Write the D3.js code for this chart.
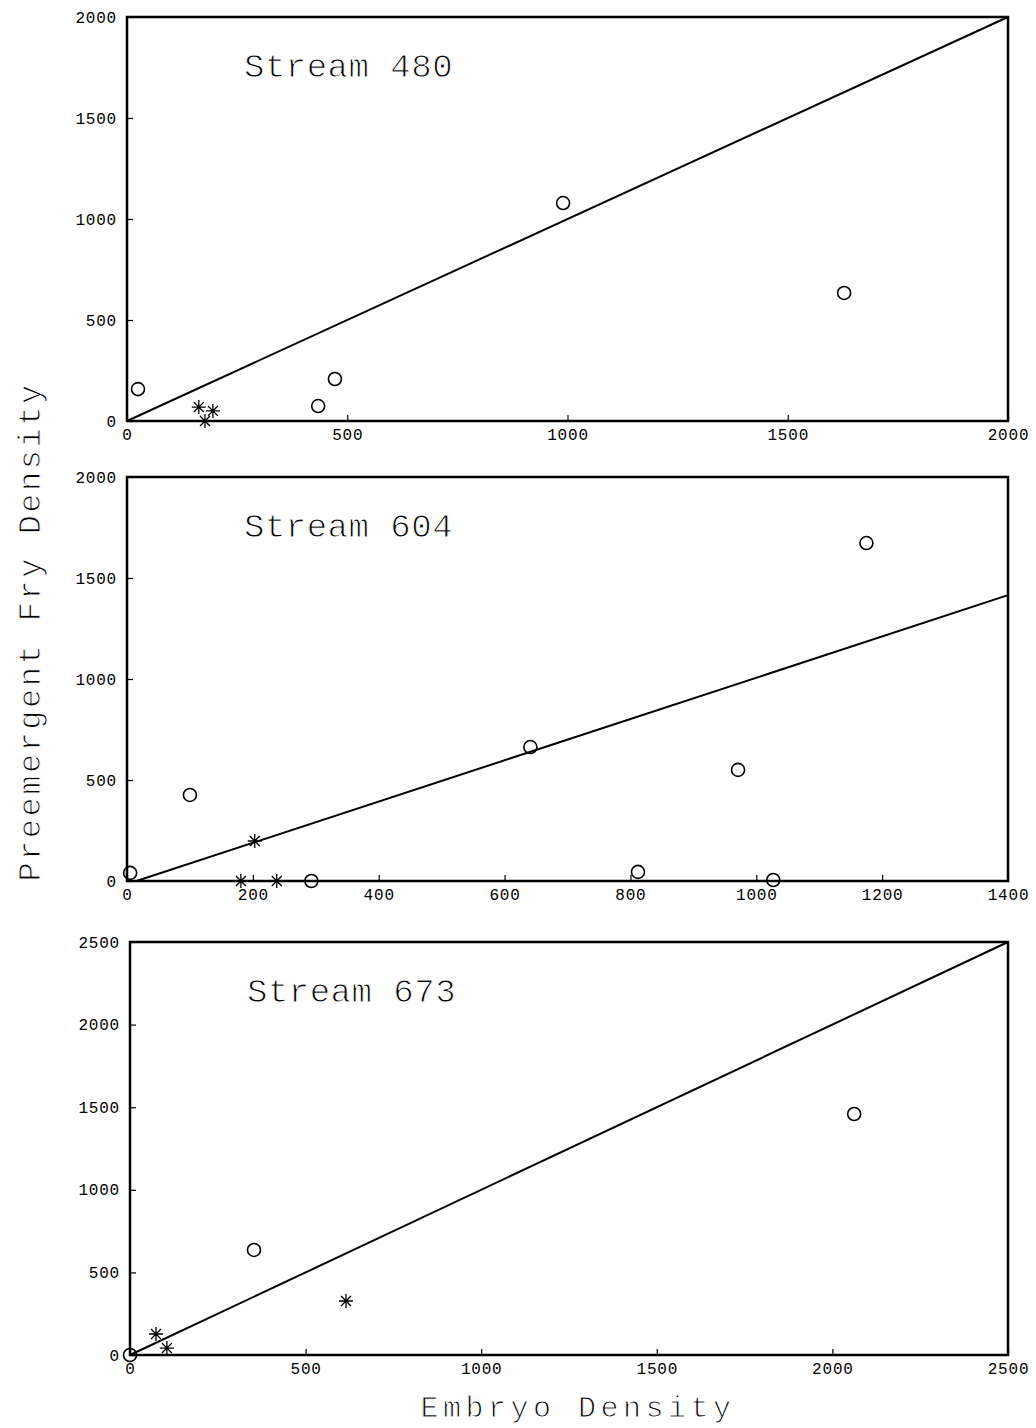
<!DOCTYPE html>
<html><head><meta charset="utf-8">
<script src="https://cdn.jsdelivr.net/npm/d3@7"></script>
<style>
body{margin:0;background:#fff;}
text{font-family:"Liberation Mono","DejaVu Sans Mono",monospace;fill:#000;}
</style></head>
<body><svg id="c" width="1036" height="1428"></svg>
<script>
// ---- data ----
const panelTitles = ["Stream 480", "Stream 604", "Stream 673"];
const xMax = [2000, 1400, 2500];
const yMax = [2000, 2000, 2500];
const xTicks = [[0,500,1000,1500,2000],[0,200,400,600,800,1000,1200,1400],[0,500,1000,1500,2000,2500]];
const yTicks = [[0,500,1000,1500,2000],[0,500,1000,1500,2000],[0,500,1000,1500,2000,2500]];
const circles480 = [[25,158],[434,74],[472,208],[990,1079],[1628,634]];
const stars480 = [[163,69],[195,50],[177,0]];
const circles604 = [[5,40],[100,426],[641,663],[971,550],[1175,1673],[812,45],[293,0],[1027,5]];
const stars604 = [[203,198],[181,0],[238,0]];
const circles673 = [[0,0],[353,636],[2062,1459]];
const stars673 = [[615,327],[74,127],[105,42]];
const line480 = [[0,0],[2000,2000]];
const line604 = [[15,0],[1400,1415]];
const line673 = [[0,0],[2500,2500]];
const circleSets = [circles480, circles604, circles673];
const starSets = [stars480, stars604, stars673];
const lineSets = [line480, line604, line673];

// ---- layout ----
const boxes = [
  {l:127, r:1008, t:17, b:421},
  {l:127, r:1008, t:477, b:881},
  {l:130, r:1008, t:942, b:1355}
];
const svg = d3.select("#c");

function starPath(r){
  let p="";
  for(let i=0;i<4;i++){
    const a=i*Math.PI/4;
    p+=`M${-r*Math.cos(a)},${-r*Math.sin(a)}L${r*Math.cos(a)},${r*Math.sin(a)}`;
  }
  return p;
}
function thin(sel, w){
  sel.attr("stroke","#fff").attr("stroke-width",w).style("paint-order","fill");
}

boxes.forEach((bx,i)=>{
  const x=d3.scaleLinear().domain([0,xMax[i]]).range([bx.l,bx.r]);
  const y=d3.scaleLinear().domain([0,yMax[i]]).range([bx.b,bx.t]);
  const g=svg.append("g");
  // frame
  g.append("rect").attr("x",bx.l).attr("y",bx.t).attr("width",bx.r-bx.l).attr("height",bx.b-bx.t)
    .attr("fill","none").attr("stroke","#000").attr("stroke-width",2.5);
  // axes
  const xa=d3.axisBottom(x).tickValues(xTicks[i]).tickSize(-6).tickPadding(8).tickFormat(d3.format("d"));
  const ya=d3.axisLeft(y).tickValues(yTicks[i]).tickSize(-6).tickPadding(10).tickFormat(d3.format("d"));
  const gx=g.append("g").attr("transform",`translate(0,${bx.b})`).call(xa);
  const gy=g.append("g").attr("transform",`translate(${bx.l},0)`).call(ya);
  [gx,gy].forEach(a=>{
    a.select(".domain").remove();
    a.selectAll("line").attr("stroke","#000").attr("stroke-width",1.2);
    a.selectAll("text").style("font-family","'Liberation Mono',monospace").style("font-size","16px")
      .attr("letter-spacing","0.8").attr("fill","#000");
  });
  // fit line
  g.append("path").datum(lineSets[i])
    .attr("d",d3.line().x(d=>x(d[0])).y(d=>y(d[1])))
    .attr("fill","none").attr("stroke","#000").attr("stroke-width",2);
  // circles
  g.selectAll("circle.pt").data(circleSets[i]).join("circle")
    .attr("cx",d=>x(d[0])).attr("cy",d=>y(d[1])).attr("r",6.5)
    .attr("fill","none").attr("stroke","#000").attr("stroke-width",1.6);
  // stars
  g.selectAll("path.st").data(starSets[i]).join("path")
    .attr("transform",d=>`translate(${x(d[0])},${y(d[1])})`)
    .attr("d",starPath(7)).attr("stroke","#000").attr("stroke-width",1.3).attr("fill","none");
  // title
  const tt=g.append("text").attr("x",bx.l+117).attr("y",bx.t+60)
    .style("font-size","34px").attr("letter-spacing","0.5")
    .text(panelTitles[i]);
  thin(tt,1.0);
});

thin(svg.append("text").attr("transform","translate(40,632) rotate(-90)")
  .attr("text-anchor","middle").style("font-size","32px").attr("letter-spacing","2.5")
  .text("Preemergent Fry Density"),1.0);
thin(svg.append("text").attr("x",578).attr("y",1417).attr("text-anchor","middle")
  .style("font-size","30px").attr("letter-spacing","4.5")
  .text("Embryo Density"),1.0);
</script></body></html>
